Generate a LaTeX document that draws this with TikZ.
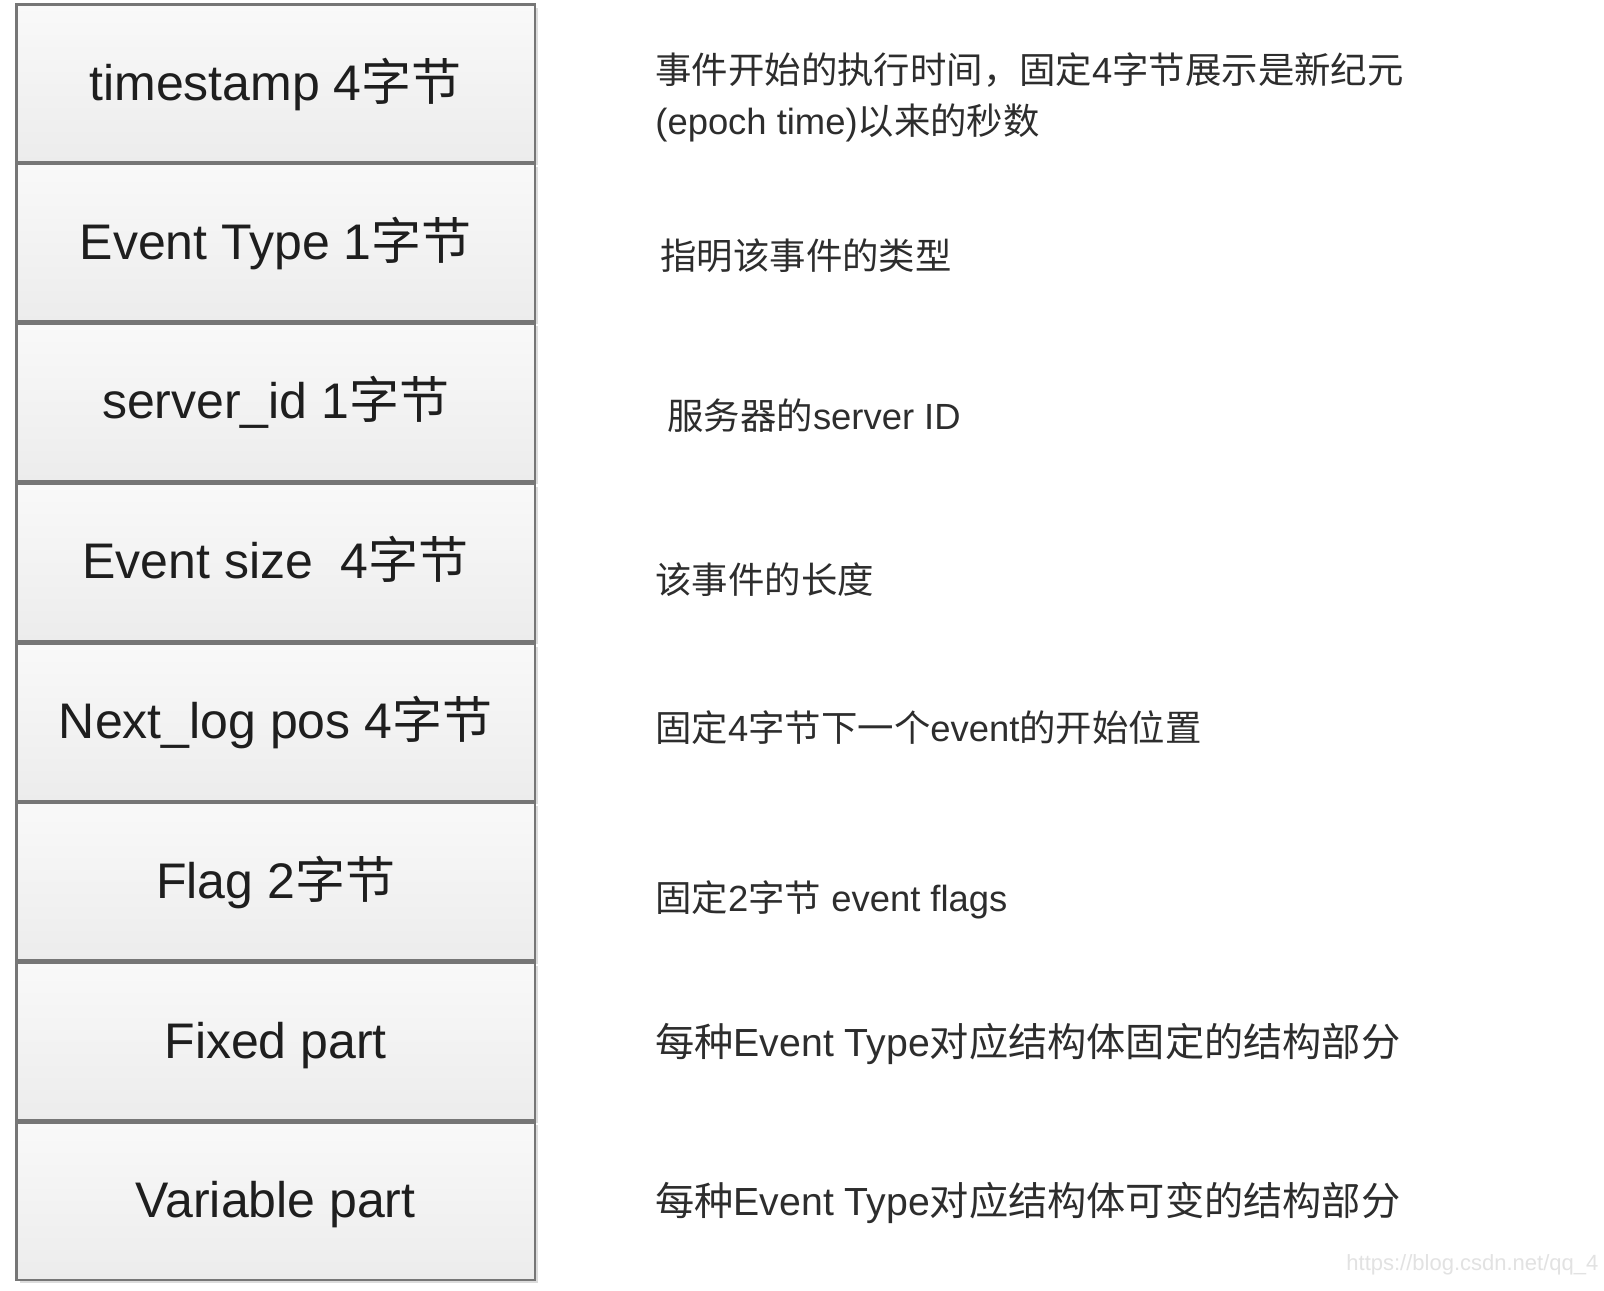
\documentclass[tikz,border=0pt]{standalone}
\usepackage{fontspec}
\setmainfont{Liberation Sans}
\newfontfamily\cjk{Noto Sans CJK SC}
\usetikzlibrary{shadows}
\definecolor{bordergray}{RGB}{118,118,118}
\definecolor{boxtop}{RGB}{249,249,249}
\definecolor{boxbot}{RGB}{236,236,236}
\definecolor{txt}{RGB}{30,30,30}
\definecolor{desctxt}{RGB}{45,45,45}
\definecolor{wm}{RGB}{226,226,226}
\begin{document}
\begin{tikzpicture}[x=0.5pt,y=-0.5pt,
  field/.style={draw=bordergray, line width=1.3pt, top color=boxtop, bottom color=boxbot,
    minimum width=259.3pt, minimum height=78.8pt, inner sep=0pt, text=txt,
    text height=18pt, text depth=1.4pt,
    font=\fontsize{25}{30}\selectfont,
    drop shadow={shadow xshift=1.6pt, shadow yshift=-1.6pt, opacity=0.3, fill=black!45}},
  desc/.style={anchor=west, inner sep=0pt, text=desctxt, font=\fontsize{18.2}{25.5}\selectfont, align=left},
  descbig/.style={desc, font=\fontsize{19.6}{25.5}\selectfont}]
\useasboundingbox (0,0) rectangle (1604,1290);
\fill[white] (0,0) rectangle (1604,1290);

\node[field] (f1) at (275.7,83.4)  {timestamp 4{\cjk 字节}};
\node[field] (f2) at (275.7,242.4) {Event Type 1{\cjk 字节}};
\node[field] (f3) at (275.7,402.0) {server\_id 1{\cjk 字节}};
\node[field] (f4) at (275.7,562.1) {Event size\ \ 4{\cjk 字节}};
\node[field] (f5) at (275.7,722.2) {Next\_log pos 4{\cjk 字节}};
\node[field] (f6) at (275.7,881.8) {Flag 2{\cjk 字节}};
\node[field] (f7) at (275.7,1041.4) {Fixed part};
\node[field] (f8) at (275.7,1201.0) {Variable part};

\node[desc] (d1) at (655,97.5) {{\cjk 事件开始的执行时间，固定}4{\cjk 字节展示是新纪元}\\(epoch time){\cjk 以来的秒数}};
\node[desc] (d2) at (660,256) {{\cjk 指明该事件的类型}};
\node[desc] (d3) at (667,416) {{\cjk 服务器的}server ID};
\node[desc] (d4) at (655,580) {{\cjk 该事件的长度}};
\node[desc] (d5) at (655,728) {{\cjk 固定}4{\cjk 字节下一个}event{\cjk 的开始位置}};
\node[desc] (d6) at (655,900) {{\cjk 固定}2{\cjk 字节} event flags};
\node[descbig] (d7) at (655,1044) {{\cjk 每种}Event Type{\cjk 对应结构体固定的结构部分}};
\node[descbig] (d8) at (655,1203) {{\cjk 每种}Event Type{\cjk 对应结构体可变的结构部分}};

\node[anchor=west, inner sep=0pt, text=wm, font=\fontsize{11}{13}\selectfont] (wm) at (1346,1265) {https://blog.csdn.net/qq\_4};
\end{tikzpicture}
\end{document}
